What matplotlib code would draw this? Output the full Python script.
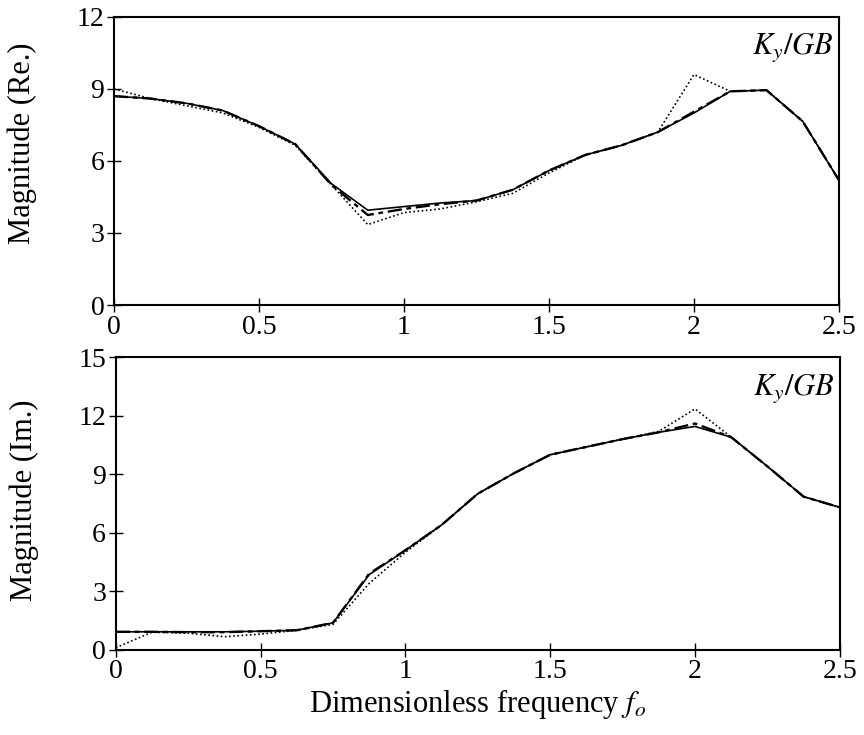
import numpy as np
import matplotlib.pyplot as plt

plt.rcParams['font.family'] = ['Liberation Serif', 'DejaVu Serif']
plt.rcParams['mathtext.fontset'] = 'stix'

# frecuencia adimensional (paso 0.125)
f = np.arange(21) * 0.125

# parte real
re_sol = [8.7, 8.6, 8.4, 8.1, 7.45, 6.7, 5.05, 3.95, 4.1, 4.25, 4.35, 4.8, 5.6, 6.25, 6.65, 7.2, 8.0, 8.9, 8.95, 7.65, 5.2]
re_das = [8.7, 8.6, 8.4, 8.1, 7.45, 6.7, 5.0, 3.75, 4.0, 4.2, 4.35, 4.8, 5.6, 6.25, 6.65, 7.2, 8.05, 8.9, 8.95, 7.65, 5.2]
re_dot = [9.0, 8.6, 8.3, 8.0, 7.4, 6.65, 5.0, 3.35, 3.85, 4.0, 4.3, 4.65, 5.5, 6.25, 6.65, 7.2, 9.6, 8.9, 8.95, 7.65, 5.2]

# parte imaginaria
im_sol = [0.92, 0.92, 0.92, 0.92, 0.95, 1.0, 1.38, 3.85, 5.1, 6.4, 8.0, 9.05, 10.0, 10.4, 10.8, 11.15, 11.45, 10.9, 9.4, 7.85, 7.3]
im_das = [0.92, 0.92, 0.9, 0.9, 0.95, 1.0, 1.38, 3.9, 5.1, 6.4, 8.0, 9.05, 10.0, 10.4, 10.8, 11.15, 11.6, 10.9, 9.4, 7.85, 7.3]
im_dot = [0.1, 0.9, 0.85, 0.67, 0.8, 1.0, 1.3, 3.4, 5.0, 6.4, 8.0, 9.05, 10.0, 10.4, 10.8, 11.2, 12.35, 10.9, 9.4, 7.85, 7.3]

fig = plt.figure(figsize=(8.64, 7.35), dpi=100)
ax1 = fig.add_axes([0.132, 0.585, 0.839, 0.392])
ax2 = fig.add_axes([0.134, 0.116, 0.838, 0.398])

for ax, s, d, o, ymax, lab, ly in [(ax1, re_sol, re_das, re_dot, 12, 'Magnitude (Re.)', 0.56),
                                   (ax2, im_sol, im_das, im_dot, 15, 'Magnitude (Im.)', 0.51)]:
    ax.plot(f, s, color='black', lw=1.2, ls='-')
    ax.plot(f, d, color='black', lw=1.7, ls=(0, (6, 2, 2, 2)))
    ax.plot(f, o, color='black', lw=1.2, ls=(0, (1, 1.5)))
    ax.set_xlim(0, 2.5)
    ax.set_ylim(0, ymax)
    ax.set_xticks([0, 0.5, 1, 1.5, 2, 2.5])
    ax.set_xticklabels(['0', '0.5', '1', '1.5', '2', '2.5'])
    ax.set_yticks(np.arange(0, ymax + 1, 3))
    ax.tick_params(direction='inout', length=10, width=1, labelsize=20, pad=2)
    for sp in ax.spines.values():
        sp.set_linewidth(1.5)
    ax.set_ylabel(lab, fontsize=22)
    ax.yaxis.set_label_coords(-0.106, ly)
    ax.text(0.993, 0.95, r'$K_y/GB$', transform=ax.transAxes, ha='right', va='top', fontsize=22)

ax2.set_xlabel(r'Dimensionless frequency $f_o$', fontsize=22, labelpad=2)

fig.savefig('out.png', dpi=100)
